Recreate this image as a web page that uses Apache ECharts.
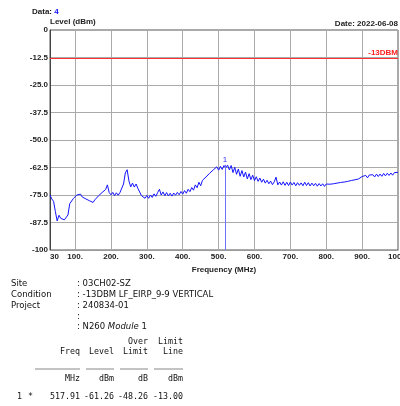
<!DOCTYPE html>
<html>
<head>
<meta charset="utf-8">
<script src="https://cdn.jsdelivr.net/npm/echarts@6/dist/echarts.min.js"></script>
<style>
  html, body { margin: 0; padding: 0; background: #fff; }
  #chart { width: 400px; height: 406px; }
</style>
</head>
<body>
<div id="chart"></div>
<script>
// Sweep: 30 MHz to 1000 MHz in 5 MHz steps
const freqStart = 30;
const freqStep = 5;
// Measured level (dBm) at each sweep frequency
const levels = [
  -75.0, -76.8, -77.9, -82.6, -86.8, -84.2, -85.6, -85.0, -86.3, -85.4,
  -84.1, -79.0, -78.3, -76.6, -76.8, -75.0, -75.7, -74.6, -75.9, -75.2,
  -76.8, -76.2, -77.6, -76.9, -78.4, -77.2, -76.9, -75.4, -76.0, -73.9,
  -74.3, -72.5, -70.4, -73.9, -74.9, -73.8, -75.3, -74.0, -75.1, -73.9,
  -74.6, -70.0, -65.0, -63.5, -68.6, -71.3, -69.6, -71.4, -70.0, -72.0,
  -72.5, -75.3, -75.6, -76.5, -75.2, -76.5, -75.0, -76.1, -74.5, -75.6,
  -73.9, -72.4, -75.0, -73.6, -75.3, -73.9, -75.4, -74.2, -75.5, -74.1,
  -75.1, -73.8, -74.9, -73.4, -74.6, -73.0, -74.2, -72.4, -73.5, -71.6,
  -72.8, -70.4, -71.7, -69.2, -70.8, -68.3, -68.6, -66.8, -67.0, -65.1,
  -65.6, -63.6, -64.4, -62.2, -63.7, -62.0, -63.4, -61.6, -62.7, -61.4,
  -63.6, -61.6, -64.8, -62.4, -65.6, -63.2, -66.5, -63.9, -66.8, -64.6,
  -67.7, -65.3, -68.0, -66.0, -68.5, -66.7, -68.8, -67.3, -69.2, -67.8,
  -69.6, -68.3, -69.9, -68.7, -70.3, -69.0, -66.9, -70.4, -69.1, -70.5,
  -69.0, -70.6, -69.2, -70.7, -69.1, -70.5, -69.3, -70.8, -69.4, -70.6,
  -69.5, -70.8, -69.2, -70.7, -69.4, -70.9, -69.6, -70.8, -69.7, -71.0,
  -69.8, -70.9, -69.9, -71.1, -70.0, -70.6, -70.1, -70.4, -69.9, -70.2,
  -69.6, -70.0, -69.3, -69.9, -69.1, -69.5, -68.8, -69.2, -68.4, -68.8,
  -68.1, -68.5, -67.7, -68.0, -66.6, -67.3, -66.1, -67.2, -65.9, -66.8,
  -65.8, -66.8, -65.5, -66.6, -65.5, -66.5, -65.2, -66.3, -65.1, -66.1,
  -65.0, -66.0, -64.8, -65.7, -64.7
];
// Peak marker
const markerFreq = 517.91;
const markerLevel = -61.26;
const limitLevel = -13.00;
const overLimit = -48.26;
// Axis ticks
const xTicks = [30, 100, 200, 300, 400, 500, 600, 700, 800, 900, 1000];

// Header / info texts
const infoLabels = ['Site', 'Condition', 'Project', '', ''];
const infoValues = [': 03CH02-SZ', ': -13DBM LF_EIRP_9-9 VERTICAL', ': 240834-01', ':', ': N260 {i|Module} 1'];

// Trace points with the marker reading merged in
const trace = [];
let markerPlaced = false;
levels.forEach((v, i) => {
  const f = freqStart + i * freqStep;
  if (!markerPlaced && f > markerFreq) {
    trace.push([markerFreq, markerLevel]);
    markerPlaced = true;
  }
  trace.push([f, v]);
});

const chart = echarts.init(document.getElementById('chart'), null, { renderer: 'canvas' });

const axisFont = { fontFamily: 'Liberation Sans, Arial, sans-serif', fontSize: 8, fontWeight: 'bold', color: '#222' };
const sansFont = '8.5px "DejaVu Sans", sans-serif';
const monoFont = '8.3px "DejaVu Sans Mono", monospace';

// Table layout helpers
const colRight = [80, 114, 148, 183];
const graphics = [];
const rowY = [284, 295, 305.5, 316.5, 326.5];
infoLabels.forEach((t, i) => {
  if (t) graphics.push({ type: 'text', x: 11, y: rowY[i], style: { text: t, font: sansFont, fill: '#111', textVerticalAlign: 'middle' } });
});
infoValues.forEach((t, i) => {
  graphics.push({ type: 'text', x: 77, y: rowY[i], style: {
    text: t, font: sansFont, fill: '#111', textVerticalAlign: 'middle',
    rich: { i: { font: 'italic 8.5px "DejaVu Sans", sans-serif', fill: '#111' } }
  } });
});
function cellRow(y, cells) {
  cells.forEach((t, c) => {
    if (t === '') return;
    graphics.push({ type: 'text', x: colRight[c], y: y, style: { text: t, font: monoFont, fill: '#111', textAlign: 'right', textVerticalAlign: 'middle' } });
  });
}
cellRow(341.5, ['', '', 'Over', 'Limit']);
cellRow(351.5, ['Freq', 'Level', 'Limit', 'Line']);
const ulStart = [35, 86, 120, 154];
ulStart.forEach((x0, c) => {
  graphics.push({ type: 'line', shape: { x1: x0, y1: 369, x2: colRight[c], y2: 369 }, style: { stroke: '#888', lineWidth: 1 } });
});
cellRow(378.5, ['MHz', 'dBm', 'dB', 'dBm']);
cellRow(397, [markerFreq.toFixed(2), markerLevel.toFixed(2), overLimit.toFixed(2), limitLevel.toFixed(2)]);
graphics.push({ type: 'text', x: 22, y: 397, style: { text: '1', font: monoFont, fill: '#111', textAlign: 'right', textVerticalAlign: 'middle' } });
graphics.push({ type: 'text', x: 33, y: 397, style: { text: '*', font: monoFont, fill: '#111', textAlign: 'right', textVerticalAlign: 'middle' } });

// Chart header
graphics.push({ type: 'text', x: 32, y: 12, style: {
  text: '{a|Data: }{b|4}', textVerticalAlign: 'middle',
  rich: { a: { font: 'bold 8px "Liberation Sans", Arial', fill: '#222' }, b: { font: 'bold 8px "Liberation Sans", Arial', fill: '#1010ff' } }
} });
graphics.push({ type: 'text', x: 398, y: 24, style: { text: 'Date: 2022-06-08', font: 'bold 8px "Liberation Sans", Arial', fill: '#222', textAlign: 'right', textVerticalAlign: 'middle' } });

chart.setOption({
  animation: false,
  backgroundColor: '#fff',
  grid: { left: 50, top: 30, width: 348, height: 220, outerBoundsMode: 'none', containLabel: false,
          show: true, borderColor: '#555', borderWidth: 1, backgroundColor: 'transparent' },
  xAxis: {
    type: 'value', min: 30, max: 1000,
    name: 'Frequency (MHz)', nameLocation: 'middle', nameGap: 14,
    nameTextStyle: axisFont,
    axisLine: { show: true, onZero: false, lineStyle: { color: '#999', width: 1 } },
    axisTick: { show: false, customValues: xTicks },
    axisLabel: {
      customValues: xTicks, margin: 3, ...axisFont,
      formatter: v => v === 30 ? '{p|30}' : v + '.',
      rich: { p: { ...axisFont, padding: [0, 0, 0, 9] } }
    },
    splitLine: { show: true, lineStyle: { color: '#aaa', width: 1 } }
  },
  yAxis: {
    type: 'value', min: -100, max: 0, interval: 12.5,
    name: 'Level (dBm)', nameLocation: 'end', nameGap: 0,
    nameTextStyle: { ...axisFont, align: 'left', verticalAlign: 'middle', padding: [0, 0, 12, 0] },
    axisLine: { show: true, lineStyle: { color: '#444', width: 1 } },
    axisTick: { show: false },
    axisLabel: {
      margin: 2, ...axisFont,
      formatter: v => (v === 0 || v === -100) ? String(v) : v.toFixed(1)
    },
    splitLine: { show: true, lineStyle: { color: '#aaa', width: 1 } }
  },
  graphic: graphics,
  series: [{
    type: 'line',
    data: trace,
    showSymbol: false,
    symbol: 'none',
    lineStyle: { color: '#1414ff', width: 1 },
    markLine: {
      silent: true,
      symbol: ['none', 'none'],
      data: [
        {
          yAxis: limitLevel,
          lineStyle: { color: '#ff3030', width: 1, type: 'solid' },
          label: { show: true, position: 'insideEndTop', formatter: '-13DBM', color: '#ff2020', fontFamily: 'Liberation Sans, Arial', fontSize: 8, fontWeight: 'bold', distance: [0, 2] }
        },
        [
          { coord: [markerFreq, markerLevel], lineStyle: { color: '#7070ff', width: 1, type: 'solid' },
            label: { show: true, position: 'start', formatter: '1', color: '#3030ff', fontFamily: 'Liberation Sans, Arial', fontSize: 8, distance: 1 } },
          { coord: [markerFreq, -100] }
        ]
      ]
    }
  }]
});
</script>
</body>
</html>
